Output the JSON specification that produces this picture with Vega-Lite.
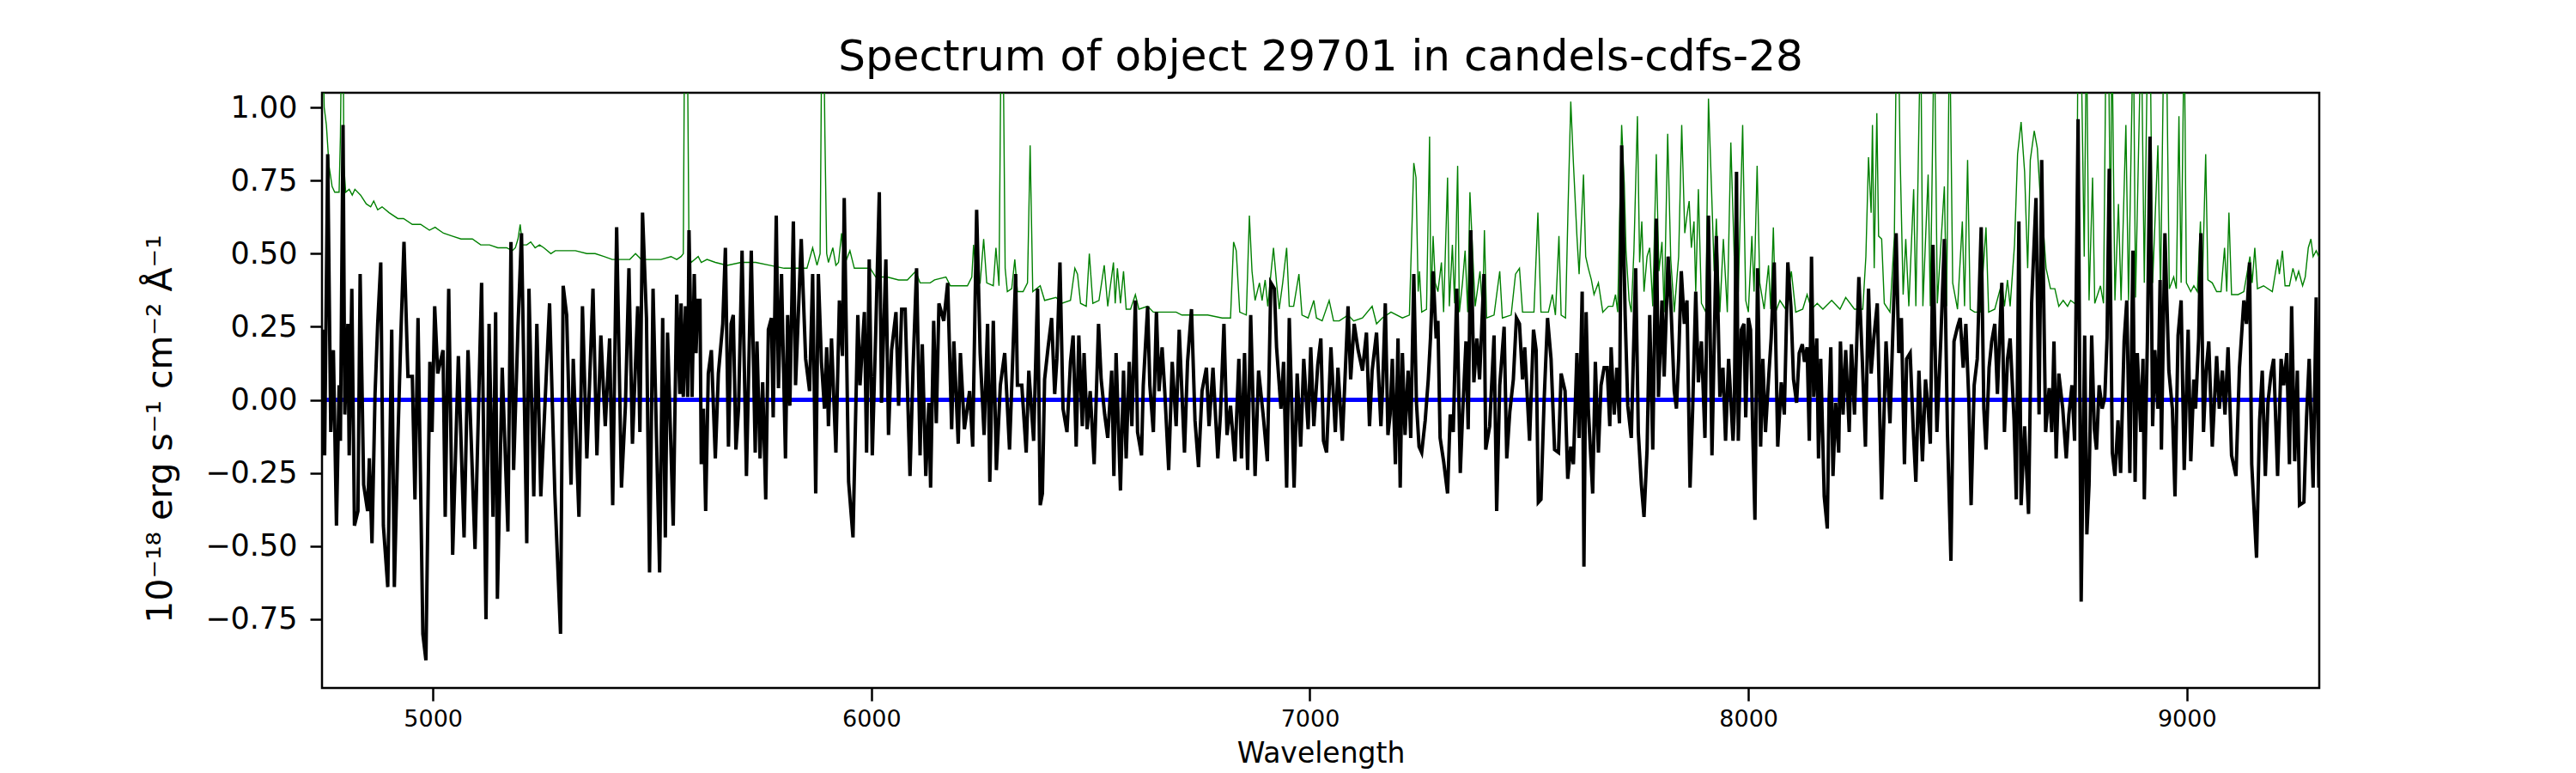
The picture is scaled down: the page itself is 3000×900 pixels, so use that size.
{
  "$schema": "https://vega.github.io/schema/vega-lite/v6.json",
  "width": 2326,
  "height": 693,
  "autosize": {"type": "none"},
  "padding": {"left": 375, "top": 108, "right": 299, "bottom": 99},
  "background": "white",
  "title": {
    "text": "Spectrum of object 29701 in candels-cdfs-28",
    "fontSize": 50,
    "fontWeight": "normal",
    "color": "black",
    "anchor": "middle",
    "offset": 16
  },
  "datasets": {
    "noise": [
      {"wavelength": 4748, "noise": 1.3}, {"wavelength": 4752, "noise": 1.0}, {"wavelength": 4757, "noise": 0.94}, {"wavelength": 4763, "noise": 0.8},
      {"wavelength": 4770, "noise": 0.73}, {"wavelength": 4776, "noise": 0.71}, {"wavelength": 4786, "noise": 0.71}, {"wavelength": 4789, "noise": 0.9},
      {"wavelength": 4792, "noise": 1.3}, {"wavelength": 4795, "noise": 1.3}, {"wavelength": 4797, "noise": 0.8}, {"wavelength": 4801, "noise": 0.71},
      {"wavelength": 4809, "noise": 0.72}, {"wavelength": 4816, "noise": 0.7}, {"wavelength": 4822, "noise": 0.72}, {"wavelength": 4835, "noise": 0.7},
      {"wavelength": 4848, "noise": 0.67}, {"wavelength": 4858, "noise": 0.66}, {"wavelength": 4865, "noise": 0.68}, {"wavelength": 4874, "noise": 0.65},
      {"wavelength": 4884, "noise": 0.66}, {"wavelength": 4900, "noise": 0.64}, {"wavelength": 4920, "noise": 0.62}, {"wavelength": 4933, "noise": 0.62},
      {"wavelength": 4953, "noise": 0.6}, {"wavelength": 4972, "noise": 0.6}, {"wavelength": 4992, "noise": 0.58}, {"wavelength": 5005, "noise": 0.59},
      {"wavelength": 5024, "noise": 0.57}, {"wavelength": 5044, "noise": 0.56}, {"wavelength": 5064, "noise": 0.55}, {"wavelength": 5090, "noise": 0.55},
      {"wavelength": 5109, "noise": 0.53}, {"wavelength": 5129, "noise": 0.53}, {"wavelength": 5148, "noise": 0.52}, {"wavelength": 5168, "noise": 0.52},
      {"wavelength": 5181, "noise": 0.51}, {"wavelength": 5188, "noise": 0.52}, {"wavelength": 5194, "noise": 0.55}, {"wavelength": 5199, "noise": 0.6},
      {"wavelength": 5204, "noise": 0.53}, {"wavelength": 5214, "noise": 0.53}, {"wavelength": 5223, "noise": 0.54}, {"wavelength": 5233, "noise": 0.52},
      {"wavelength": 5243, "noise": 0.53}, {"wavelength": 5253, "noise": 0.52}, {"wavelength": 5269, "noise": 0.5}, {"wavelength": 5279, "noise": 0.51},
      {"wavelength": 5299, "noise": 0.51}, {"wavelength": 5325, "noise": 0.51}, {"wavelength": 5351, "noise": 0.5}, {"wavelength": 5370, "noise": 0.5},
      {"wavelength": 5390, "noise": 0.49}, {"wavelength": 5409, "noise": 0.48}, {"wavelength": 5429, "noise": 0.48}, {"wavelength": 5449, "noise": 0.48},
      {"wavelength": 5462, "noise": 0.5}, {"wavelength": 5475, "noise": 0.48}, {"wavelength": 5494, "noise": 0.48}, {"wavelength": 5520, "noise": 0.48},
      {"wavelength": 5543, "noise": 0.49}, {"wavelength": 5556, "noise": 0.48}, {"wavelength": 5566, "noise": 0.49}, {"wavelength": 5571, "noise": 0.5},
      {"wavelength": 5574, "noise": 1.3}, {"wavelength": 5580, "noise": 1.3}, {"wavelength": 5584, "noise": 0.5}, {"wavelength": 5589, "noise": 0.47},
      {"wavelength": 5605, "noise": 0.49}, {"wavelength": 5612, "noise": 0.47}, {"wavelength": 5625, "noise": 0.48}, {"wavelength": 5644, "noise": 0.47},
      {"wavelength": 5671, "noise": 0.46}, {"wavelength": 5703, "noise": 0.47}, {"wavelength": 5736, "noise": 0.47}, {"wavelength": 5768, "noise": 0.46},
      {"wavelength": 5801, "noise": 0.45}, {"wavelength": 5834, "noise": 0.45}, {"wavelength": 5853, "noise": 0.45}, {"wavelength": 5866, "noise": 0.52},
      {"wavelength": 5876, "noise": 0.46}, {"wavelength": 5883, "noise": 0.5}, {"wavelength": 5887, "noise": 1.3}, {"wavelength": 5891, "noise": 1.3},
      {"wavelength": 5894, "noise": 0.9}, {"wavelength": 5898, "noise": 0.5}, {"wavelength": 5902, "noise": 0.47}, {"wavelength": 5912, "noise": 0.52},
      {"wavelength": 5919, "noise": 0.46}, {"wavelength": 5925, "noise": 0.47}, {"wavelength": 5932, "noise": 0.57}, {"wavelength": 5938, "noise": 0.46},
      {"wavelength": 5951, "noise": 0.51}, {"wavelength": 5961, "noise": 0.45}, {"wavelength": 5974, "noise": 0.45}, {"wavelength": 5997, "noise": 0.45},
      {"wavelength": 6010, "noise": 0.42}, {"wavelength": 6036, "noise": 0.42}, {"wavelength": 6062, "noise": 0.41}, {"wavelength": 6082, "noise": 0.41},
      {"wavelength": 6101, "noise": 0.44}, {"wavelength": 6111, "noise": 0.4}, {"wavelength": 6134, "noise": 0.4}, {"wavelength": 6144, "noise": 0.41},
      {"wavelength": 6170, "noise": 0.42}, {"wavelength": 6180, "noise": 0.39}, {"wavelength": 6199, "noise": 0.39}, {"wavelength": 6219, "noise": 0.39},
      {"wavelength": 6229, "noise": 0.42}, {"wavelength": 6233, "noise": 0.53}, {"wavelength": 6240, "noise": 0.41}, {"wavelength": 6248, "noise": 0.4},
      {"wavelength": 6256, "noise": 0.55}, {"wavelength": 6263, "noise": 0.4}, {"wavelength": 6278, "noise": 0.39}, {"wavelength": 6284, "noise": 0.52},
      {"wavelength": 6291, "noise": 0.39}, {"wavelength": 6296, "noise": 1.3}, {"wavelength": 6300, "noise": 1.3}, {"wavelength": 6305, "noise": 0.45},
      {"wavelength": 6310, "noise": 0.37}, {"wavelength": 6320, "noise": 0.38}, {"wavelength": 6327, "noise": 0.48}, {"wavelength": 6333, "noise": 0.37},
      {"wavelength": 6346, "noise": 0.37}, {"wavelength": 6356, "noise": 0.4}, {"wavelength": 6362, "noise": 0.87}, {"wavelength": 6368, "noise": 0.37},
      {"wavelength": 6385, "noise": 0.39}, {"wavelength": 6395, "noise": 0.34}, {"wavelength": 6421, "noise": 0.35}, {"wavelength": 6434, "noise": 0.33},
      {"wavelength": 6454, "noise": 0.34}, {"wavelength": 6464, "noise": 0.45}, {"wavelength": 6470, "noise": 0.43}, {"wavelength": 6477, "noise": 0.33},
      {"wavelength": 6490, "noise": 0.32}, {"wavelength": 6497, "noise": 0.5}, {"wavelength": 6505, "noise": 0.33}, {"wavelength": 6519, "noise": 0.34},
      {"wavelength": 6531, "noise": 0.46}, {"wavelength": 6539, "noise": 0.32}, {"wavelength": 6552, "noise": 0.47}, {"wavelength": 6556, "noise": 0.33},
      {"wavelength": 6561, "noise": 0.45}, {"wavelength": 6568, "noise": 0.33}, {"wavelength": 6575, "noise": 0.44}, {"wavelength": 6581, "noise": 0.31},
      {"wavelength": 6591, "noise": 0.31}, {"wavelength": 6602, "noise": 0.36}, {"wavelength": 6610, "noise": 0.31}, {"wavelength": 6630, "noise": 0.32},
      {"wavelength": 6643, "noise": 0.3}, {"wavelength": 6669, "noise": 0.3}, {"wavelength": 6695, "noise": 0.3}, {"wavelength": 6708, "noise": 0.29},
      {"wavelength": 6734, "noise": 0.29}, {"wavelength": 6767, "noise": 0.29}, {"wavelength": 6800, "noise": 0.28}, {"wavelength": 6819, "noise": 0.28},
      {"wavelength": 6826, "noise": 0.54}, {"wavelength": 6832, "noise": 0.51}, {"wavelength": 6840, "noise": 0.3}, {"wavelength": 6855, "noise": 0.29},
      {"wavelength": 6862, "noise": 0.63}, {"wavelength": 6868, "noise": 0.44}, {"wavelength": 6875, "noise": 0.34}, {"wavelength": 6885, "noise": 0.4},
      {"wavelength": 6891, "noise": 0.34}, {"wavelength": 6898, "noise": 0.41}, {"wavelength": 6904, "noise": 0.32}, {"wavelength": 6911, "noise": 0.43},
      {"wavelength": 6917, "noise": 0.52}, {"wavelength": 6924, "noise": 0.4}, {"wavelength": 6930, "noise": 0.31}, {"wavelength": 6938, "noise": 0.4},
      {"wavelength": 6947, "noise": 0.52}, {"wavelength": 6953, "noise": 0.32}, {"wavelength": 6963, "noise": 0.32}, {"wavelength": 6975, "noise": 0.43},
      {"wavelength": 6982, "noise": 0.29}, {"wavelength": 6996, "noise": 0.28}, {"wavelength": 7009, "noise": 0.34}, {"wavelength": 7015, "noise": 0.28},
      {"wavelength": 7028, "noise": 0.27}, {"wavelength": 7044, "noise": 0.34}, {"wavelength": 7054, "noise": 0.27}, {"wavelength": 7067, "noise": 0.27},
      {"wavelength": 7087, "noise": 0.29}, {"wavelength": 7100, "noise": 0.27}, {"wavelength": 7120, "noise": 0.28}, {"wavelength": 7142, "noise": 0.32},
      {"wavelength": 7152, "noise": 0.26}, {"wavelength": 7165, "noise": 0.28}, {"wavelength": 7185, "noise": 0.3}, {"wavelength": 7211, "noise": 0.28},
      {"wavelength": 7227, "noise": 0.29}, {"wavelength": 7237, "noise": 0.81}, {"wavelength": 7242, "noise": 0.76}, {"wavelength": 7247, "noise": 0.37},
      {"wavelength": 7250, "noise": 0.44}, {"wavelength": 7255, "noise": 0.3}, {"wavelength": 7266, "noise": 0.31}, {"wavelength": 7273, "noise": 0.9},
      {"wavelength": 7276, "noise": 0.32}, {"wavelength": 7281, "noise": 0.56}, {"wavelength": 7286, "noise": 0.4}, {"wavelength": 7292, "noise": 0.37},
      {"wavelength": 7300, "noise": 0.47}, {"wavelength": 7305, "noise": 0.3}, {"wavelength": 7314, "noise": 0.76}, {"wavelength": 7318, "noise": 0.32},
      {"wavelength": 7325, "noise": 0.53}, {"wavelength": 7330, "noise": 0.33}, {"wavelength": 7337, "noise": 0.8}, {"wavelength": 7341, "noise": 0.3},
      {"wavelength": 7348, "noise": 0.4}, {"wavelength": 7354, "noise": 0.51}, {"wavelength": 7360, "noise": 0.3}, {"wavelength": 7365, "noise": 0.71},
      {"wavelength": 7371, "noise": 0.51}, {"wavelength": 7377, "noise": 0.32}, {"wavelength": 7388, "noise": 0.44}, {"wavelength": 7394, "noise": 0.3},
      {"wavelength": 7398, "noise": 0.58}, {"wavelength": 7403, "noise": 0.28}, {"wavelength": 7420, "noise": 0.29}, {"wavelength": 7426, "noise": 0.36},
      {"wavelength": 7433, "noise": 0.44}, {"wavelength": 7439, "noise": 0.28}, {"wavelength": 7459, "noise": 0.29}, {"wavelength": 7469, "noise": 0.43},
      {"wavelength": 7478, "noise": 0.45}, {"wavelength": 7485, "noise": 0.3}, {"wavelength": 7511, "noise": 0.3}, {"wavelength": 7520, "noise": 0.64},
      {"wavelength": 7527, "noise": 0.3}, {"wavelength": 7544, "noise": 0.3}, {"wavelength": 7553, "noise": 0.36}, {"wavelength": 7560, "noise": 0.29},
      {"wavelength": 7568, "noise": 0.56}, {"wavelength": 7573, "noise": 0.29}, {"wavelength": 7583, "noise": 0.28}, {"wavelength": 7589, "noise": 0.67},
      {"wavelength": 7595, "noise": 1.02}, {"wavelength": 7601, "noise": 0.81}, {"wavelength": 7609, "noise": 0.56}, {"wavelength": 7614, "noise": 0.43},
      {"wavelength": 7624, "noise": 0.77}, {"wavelength": 7629, "noise": 0.49}, {"wavelength": 7635, "noise": 0.45}, {"wavelength": 7642, "noise": 0.41},
      {"wavelength": 7648, "noise": 0.36}, {"wavelength": 7658, "noise": 0.4}, {"wavelength": 7668, "noise": 0.3}, {"wavelength": 7681, "noise": 0.32},
      {"wavelength": 7691, "noise": 0.32}, {"wavelength": 7697, "noise": 0.36}, {"wavelength": 7702, "noise": 0.3}, {"wavelength": 7706, "noise": 0.6},
      {"wavelength": 7711, "noise": 0.94}, {"wavelength": 7717, "noise": 0.74}, {"wavelength": 7721, "noise": 0.51}, {"wavelength": 7728, "noise": 0.34},
      {"wavelength": 7733, "noise": 0.3}, {"wavelength": 7739, "noise": 0.51}, {"wavelength": 7747, "noise": 0.97}, {"wavelength": 7752, "noise": 0.47},
      {"wavelength": 7757, "noise": 0.61}, {"wavelength": 7762, "noise": 0.37}, {"wavelength": 7769, "noise": 0.49}, {"wavelength": 7775, "noise": 0.52},
      {"wavelength": 7782, "noise": 0.32}, {"wavelength": 7790, "noise": 0.84}, {"wavelength": 7796, "noise": 0.44}, {"wavelength": 7803, "noise": 0.54},
      {"wavelength": 7808, "noise": 0.3}, {"wavelength": 7816, "noise": 0.91}, {"wavelength": 7823, "noise": 0.48}, {"wavelength": 7831, "noise": 0.3},
      {"wavelength": 7841, "noise": 0.49}, {"wavelength": 7848, "noise": 0.94}, {"wavelength": 7855, "noise": 0.57}, {"wavelength": 7860, "noise": 0.63},
      {"wavelength": 7865, "noise": 0.68}, {"wavelength": 7870, "noise": 0.52}, {"wavelength": 7876, "noise": 0.61}, {"wavelength": 7880, "noise": 0.37},
      {"wavelength": 7886, "noise": 0.72}, {"wavelength": 7893, "noise": 0.33}, {"wavelength": 7903, "noise": 0.3}, {"wavelength": 7909, "noise": 1.03},
      {"wavelength": 7916, "noise": 0.72}, {"wavelength": 7922, "noise": 0.44}, {"wavelength": 7927, "noise": 0.62}, {"wavelength": 7935, "noise": 0.3},
      {"wavelength": 7943, "noise": 0.55}, {"wavelength": 7952, "noise": 0.3}, {"wavelength": 7960, "noise": 0.88}, {"wavelength": 7967, "noise": 0.53},
      {"wavelength": 7971, "noise": 0.32}, {"wavelength": 7977, "noise": 0.37}, {"wavelength": 7987, "noise": 0.94}, {"wavelength": 7994, "noise": 0.34},
      {"wavelength": 8000, "noise": 0.3}, {"wavelength": 8008, "noise": 0.56}, {"wavelength": 8013, "noise": 0.37}, {"wavelength": 8020, "noise": 0.8},
      {"wavelength": 8026, "noise": 0.4}, {"wavelength": 8036, "noise": 0.31}, {"wavelength": 8046, "noise": 0.46}, {"wavelength": 8051, "noise": 0.31},
      {"wavelength": 8057, "noise": 0.59}, {"wavelength": 8062, "noise": 0.3}, {"wavelength": 8072, "noise": 0.34}, {"wavelength": 8085, "noise": 0.31},
      {"wavelength": 8098, "noise": 0.44}, {"wavelength": 8108, "noise": 0.3}, {"wavelength": 8124, "noise": 0.31}, {"wavelength": 8134, "noise": 0.36},
      {"wavelength": 8144, "noise": 0.31}, {"wavelength": 8157, "noise": 0.33}, {"wavelength": 8170, "noise": 0.31}, {"wavelength": 8190, "noise": 0.34},
      {"wavelength": 8209, "noise": 0.31}, {"wavelength": 8222, "noise": 0.35}, {"wavelength": 8242, "noise": 0.31}, {"wavelength": 8261, "noise": 0.31},
      {"wavelength": 8268, "noise": 0.49}, {"wavelength": 8274, "noise": 0.83}, {"wavelength": 8280, "noise": 0.64}, {"wavelength": 8283, "noise": 0.94},
      {"wavelength": 8287, "noise": 0.45}, {"wavelength": 8293, "noise": 0.98}, {"wavelength": 8297, "noise": 0.56}, {"wavelength": 8304, "noise": 0.55},
      {"wavelength": 8310, "noise": 0.33}, {"wavelength": 8323, "noise": 0.3}, {"wavelength": 8333, "noise": 0.56}, {"wavelength": 8338, "noise": 1.3},
      {"wavelength": 8342, "noise": 1.3}, {"wavelength": 8346, "noise": 0.84}, {"wavelength": 8353, "noise": 0.36}, {"wavelength": 8359, "noise": 0.55},
      {"wavelength": 8366, "noise": 0.32}, {"wavelength": 8377, "noise": 0.72}, {"wavelength": 8382, "noise": 0.32}, {"wavelength": 8393, "noise": 1.3},
      {"wavelength": 8398, "noise": 0.32}, {"wavelength": 8410, "noise": 0.77}, {"wavelength": 8415, "noise": 0.32}, {"wavelength": 8424, "noise": 1.3},
      {"wavelength": 8431, "noise": 0.33}, {"wavelength": 8447, "noise": 0.73}, {"wavelength": 8452, "noise": 0.32}, {"wavelength": 8459, "noise": 1.3},
      {"wavelength": 8466, "noise": 0.4}, {"wavelength": 8477, "noise": 0.31}, {"wavelength": 8488, "noise": 0.61}, {"wavelength": 8493, "noise": 0.32},
      {"wavelength": 8500, "noise": 0.82}, {"wavelength": 8506, "noise": 0.31}, {"wavelength": 8516, "noise": 0.3}, {"wavelength": 8529, "noise": 0.3},
      {"wavelength": 8542, "noise": 0.59}, {"wavelength": 8548, "noise": 0.3}, {"wavelength": 8562, "noise": 0.31}, {"wavelength": 8578, "noise": 0.4},
      {"wavelength": 8584, "noise": 0.32}, {"wavelength": 8591, "noise": 0.41}, {"wavelength": 8597, "noise": 0.32}, {"wavelength": 8607, "noise": 0.53},
      {"wavelength": 8614, "noise": 0.84}, {"wavelength": 8622, "noise": 0.95}, {"wavelength": 8630, "noise": 0.78}, {"wavelength": 8637, "noise": 0.45},
      {"wavelength": 8643, "noise": 0.82}, {"wavelength": 8652, "noise": 0.92}, {"wavelength": 8659, "noise": 0.86}, {"wavelength": 8666, "noise": 0.69},
      {"wavelength": 8672, "noise": 0.6}, {"wavelength": 8679, "noise": 0.45}, {"wavelength": 8689, "noise": 0.38}, {"wavelength": 8699, "noise": 0.38},
      {"wavelength": 8708, "noise": 0.32}, {"wavelength": 8718, "noise": 0.34}, {"wavelength": 8728, "noise": 0.32}, {"wavelength": 8735, "noise": 0.34},
      {"wavelength": 8744, "noise": 0.33}, {"wavelength": 8748, "noise": 0.34}, {"wavelength": 8752, "noise": 1.3}, {"wavelength": 8758, "noise": 1.3},
      {"wavelength": 8762, "noise": 0.9}, {"wavelength": 8766, "noise": 0.49}, {"wavelength": 8771, "noise": 1.3}, {"wavelength": 8777, "noise": 0.34},
      {"wavelength": 8785, "noise": 0.76}, {"wavelength": 8790, "noise": 0.33}, {"wavelength": 8803, "noise": 0.39}, {"wavelength": 8810, "noise": 0.33},
      {"wavelength": 8816, "noise": 1.3}, {"wavelength": 8821, "noise": 1.3}, {"wavelength": 8826, "noise": 0.5}, {"wavelength": 8829, "noise": 1.3},
      {"wavelength": 8836, "noise": 0.34}, {"wavelength": 8844, "noise": 0.67}, {"wavelength": 8850, "noise": 0.34}, {"wavelength": 8861, "noise": 0.94},
      {"wavelength": 8867, "noise": 0.34}, {"wavelength": 8878, "noise": 1.3}, {"wavelength": 8883, "noise": 0.35}, {"wavelength": 8896, "noise": 1.3},
      {"wavelength": 8903, "noise": 0.4}, {"wavelength": 8911, "noise": 1.3}, {"wavelength": 8916, "noise": 1.3}, {"wavelength": 8922, "noise": 0.4},
      {"wavelength": 8934, "noise": 0.87}, {"wavelength": 8940, "noise": 0.37}, {"wavelength": 8948, "noise": 1.3}, {"wavelength": 8953, "noise": 1.3},
      {"wavelength": 8960, "noise": 0.38}, {"wavelength": 8970, "noise": 0.42}, {"wavelength": 8976, "noise": 0.38}, {"wavelength": 8982, "noise": 0.97},
      {"wavelength": 8987, "noise": 0.4}, {"wavelength": 8994, "noise": 1.3}, {"wavelength": 8999, "noise": 0.4}, {"wavelength": 9009, "noise": 0.37},
      {"wavelength": 9016, "noise": 0.39}, {"wavelength": 9024, "noise": 0.37}, {"wavelength": 9031, "noise": 0.61}, {"wavelength": 9035, "noise": 0.37},
      {"wavelength": 9043, "noise": 0.84}, {"wavelength": 9048, "noise": 0.41}, {"wavelength": 9058, "noise": 0.4}, {"wavelength": 9068, "noise": 0.37},
      {"wavelength": 9078, "noise": 0.37}, {"wavelength": 9086, "noise": 0.52}, {"wavelength": 9091, "noise": 0.37}, {"wavelength": 9096, "noise": 0.64},
      {"wavelength": 9102, "noise": 0.36}, {"wavelength": 9117, "noise": 0.36}, {"wavelength": 9130, "noise": 0.37}, {"wavelength": 9144, "noise": 0.49},
      {"wavelength": 9149, "noise": 0.4}, {"wavelength": 9155, "noise": 0.52}, {"wavelength": 9161, "noise": 0.38}, {"wavelength": 9175, "noise": 0.39},
      {"wavelength": 9195, "noise": 0.37}, {"wavelength": 9207, "noise": 0.48}, {"wavelength": 9211, "noise": 0.43}, {"wavelength": 9218, "noise": 0.51},
      {"wavelength": 9224, "noise": 0.39}, {"wavelength": 9234, "noise": 0.39}, {"wavelength": 9242, "noise": 0.45}, {"wavelength": 9249, "noise": 0.41},
      {"wavelength": 9255, "noise": 0.44}, {"wavelength": 9264, "noise": 0.39}, {"wavelength": 9270, "noise": 0.42}, {"wavelength": 9277, "noise": 0.52},
      {"wavelength": 9283, "noise": 0.55}, {"wavelength": 9288, "noise": 0.49}, {"wavelength": 9295, "noise": 0.51}, {"wavelength": 9301, "noise": 0.49}
    ],
    "model": [
      {"wavelength": 4747, "model": 0.0}, {"wavelength": 7000, "model": 0.0}, {"wavelength": 9302, "model": 0.0}
    ],
    "flux": [
      {"wavelength": 4748, "flux": 0.24}, {"wavelength": 4753, "flux": -0.19}, {"wavelength": 4760, "flux": 0.84}, {"wavelength": 4767, "flux": -0.11},
      {"wavelength": 4773, "flux": 0.17}, {"wavelength": 4780, "flux": -0.43}, {"wavelength": 4786, "flux": 0.05}, {"wavelength": 4789, "flux": -0.14},
      {"wavelength": 4795, "flux": 0.94}, {"wavelength": 4799, "flux": -0.05}, {"wavelength": 4806, "flux": 0.26}, {"wavelength": 4809, "flux": -0.19},
      {"wavelength": 4815, "flux": 0.38}, {"wavelength": 4821, "flux": -0.43}, {"wavelength": 4829, "flux": -0.38}, {"wavelength": 4834, "flux": 0.43},
      {"wavelength": 4842, "flux": -0.29}, {"wavelength": 4851, "flux": -0.38}, {"wavelength": 4855, "flux": -0.2}, {"wavelength": 4861, "flux": -0.49},
      {"wavelength": 4868, "flux": 0.02}, {"wavelength": 4874, "flux": 0.26}, {"wavelength": 4881, "flux": 0.47}, {"wavelength": 4887, "flux": -0.43},
      {"wavelength": 4897, "flux": -0.64}, {"wavelength": 4906, "flux": 0.24}, {"wavelength": 4912, "flux": -0.64}, {"wavelength": 4920, "flux": -0.14},
      {"wavelength": 4927, "flux": 0.23}, {"wavelength": 4934, "flux": 0.54}, {"wavelength": 4943, "flux": 0.08}, {"wavelength": 4953, "flux": 0.08},
      {"wavelength": 4959, "flux": -0.34}, {"wavelength": 4966, "flux": 0.28}, {"wavelength": 4977, "flux": -0.8}, {"wavelength": 4984, "flux": -0.89},
      {"wavelength": 4993, "flux": 0.13}, {"wavelength": 4998, "flux": -0.11}, {"wavelength": 5004, "flux": 0.32}, {"wavelength": 5011, "flux": 0.09},
      {"wavelength": 5023, "flux": 0.17}, {"wavelength": 5028, "flux": -0.4}, {"wavelength": 5036, "flux": 0.38}, {"wavelength": 5045, "flux": -0.53},
      {"wavelength": 5058, "flux": 0.15}, {"wavelength": 5071, "flux": -0.47}, {"wavelength": 5080, "flux": 0.17}, {"wavelength": 5096, "flux": -0.51},
      {"wavelength": 5111, "flux": 0.4}, {"wavelength": 5121, "flux": -0.75}, {"wavelength": 5128, "flux": 0.26}, {"wavelength": 5137, "flux": -0.4},
      {"wavelength": 5143, "flux": 0.3}, {"wavelength": 5147, "flux": -0.68}, {"wavelength": 5158, "flux": 0.11}, {"wavelength": 5171, "flux": -0.45},
      {"wavelength": 5178, "flux": 0.54}, {"wavelength": 5184, "flux": -0.24}, {"wavelength": 5194, "flux": 0.25}, {"wavelength": 5202, "flux": 0.57},
      {"wavelength": 5214, "flux": -0.49}, {"wavelength": 5219, "flux": 0.38}, {"wavelength": 5230, "flux": -0.33}, {"wavelength": 5237, "flux": 0.26},
      {"wavelength": 5246, "flux": -0.33}, {"wavelength": 5259, "flux": 0.1}, {"wavelength": 5266, "flux": 0.33}, {"wavelength": 5278, "flux": -0.32},
      {"wavelength": 5291, "flux": -0.8}, {"wavelength": 5297, "flux": 0.39}, {"wavelength": 5305, "flux": 0.29}, {"wavelength": 5315, "flux": -0.29},
      {"wavelength": 5320, "flux": 0.14}, {"wavelength": 5333, "flux": -0.4}, {"wavelength": 5341, "flux": 0.32}, {"wavelength": 5351, "flux": -0.2},
      {"wavelength": 5365, "flux": 0.38}, {"wavelength": 5374, "flux": -0.19}, {"wavelength": 5383, "flux": 0.22}, {"wavelength": 5393, "flux": -0.09},
      {"wavelength": 5403, "flux": 0.21}, {"wavelength": 5410, "flux": -0.36}, {"wavelength": 5419, "flux": 0.59}, {"wavelength": 5430, "flux": -0.3},
      {"wavelength": 5439, "flux": -0.02}, {"wavelength": 5447, "flux": 0.45}, {"wavelength": 5455, "flux": -0.15}, {"wavelength": 5467, "flux": 0.32},
      {"wavelength": 5472, "flux": -0.11}, {"wavelength": 5478, "flux": 0.64}, {"wavelength": 5487, "flux": 0.28}, {"wavelength": 5494, "flux": -0.59},
      {"wavelength": 5502, "flux": 0.38}, {"wavelength": 5517, "flux": -0.59}, {"wavelength": 5524, "flux": 0.28}, {"wavelength": 5530, "flux": -0.47},
      {"wavelength": 5535, "flux": 0.23}, {"wavelength": 5548, "flux": -0.43}, {"wavelength": 5556, "flux": 0.36}, {"wavelength": 5563, "flux": 0.02},
      {"wavelength": 5566, "flux": 0.33}, {"wavelength": 5571, "flux": 0.01}, {"wavelength": 5576, "flux": 0.32}, {"wavelength": 5581, "flux": 0.01},
      {"wavelength": 5584, "flux": 0.58}, {"wavelength": 5591, "flux": 0.01}, {"wavelength": 5596, "flux": 0.43}, {"wavelength": 5600, "flux": 0.16},
      {"wavelength": 5604, "flux": 0.34}, {"wavelength": 5609, "flux": 0.34}, {"wavelength": 5612, "flux": -0.22}, {"wavelength": 5617, "flux": -0.03},
      {"wavelength": 5622, "flux": -0.38}, {"wavelength": 5628, "flux": 0.09}, {"wavelength": 5635, "flux": 0.17}, {"wavelength": 5644, "flux": -0.2},
      {"wavelength": 5651, "flux": 0.09}, {"wavelength": 5661, "flux": 0.26}, {"wavelength": 5667, "flux": 0.52}, {"wavelength": 5674, "flux": -0.16},
      {"wavelength": 5680, "flux": 0.26}, {"wavelength": 5685, "flux": 0.29}, {"wavelength": 5691, "flux": -0.17}, {"wavelength": 5697, "flux": -0.03},
      {"wavelength": 5705, "flux": 0.51}, {"wavelength": 5715, "flux": -0.26}, {"wavelength": 5726, "flux": 0.51}, {"wavelength": 5735, "flux": -0.18},
      {"wavelength": 5739, "flux": 0.2}, {"wavelength": 5746, "flux": -0.2}, {"wavelength": 5752, "flux": 0.06}, {"wavelength": 5759, "flux": -0.34},
      {"wavelength": 5765, "flux": 0.24}, {"wavelength": 5772, "flux": 0.28}, {"wavelength": 5776, "flux": -0.06}, {"wavelength": 5783, "flux": 0.63},
      {"wavelength": 5788, "flux": 0.04}, {"wavelength": 5795, "flux": 0.43}, {"wavelength": 5804, "flux": -0.2}, {"wavelength": 5809, "flux": 0.29},
      {"wavelength": 5814, "flux": -0.02}, {"wavelength": 5822, "flux": 0.61}, {"wavelength": 5827, "flux": 0.05}, {"wavelength": 5832, "flux": 0.24},
      {"wavelength": 5840, "flux": 0.55}, {"wavelength": 5850, "flux": 0.14}, {"wavelength": 5859, "flux": 0.03}, {"wavelength": 5866, "flux": 0.43},
      {"wavelength": 5873, "flux": -0.32}, {"wavelength": 5879, "flux": 0.43}, {"wavelength": 5886, "flux": 0.13}, {"wavelength": 5893, "flux": -0.03},
      {"wavelength": 5898, "flux": 0.18}, {"wavelength": 5902, "flux": -0.09}, {"wavelength": 5909, "flux": 0.21}, {"wavelength": 5919, "flux": -0.18},
      {"wavelength": 5927, "flux": 0.34}, {"wavelength": 5934, "flux": 0.15}, {"wavelength": 5938, "flux": 0.69}, {"wavelength": 5948, "flux": -0.28},
      {"wavelength": 5958, "flux": -0.47}, {"wavelength": 5969, "flux": 0.29}, {"wavelength": 5974, "flux": 0.05}, {"wavelength": 5984, "flux": 0.3},
      {"wavelength": 5989, "flux": -0.18}, {"wavelength": 5995, "flux": 0.48}, {"wavelength": 6002, "flux": -0.19}, {"wavelength": 6010, "flux": 0.24},
      {"wavelength": 6018, "flux": 0.71}, {"wavelength": 6023, "flux": -0.01}, {"wavelength": 6033, "flux": 0.48}, {"wavelength": 6039, "flux": -0.12},
      {"wavelength": 6046, "flux": 0.17}, {"wavelength": 6056, "flux": 0.3}, {"wavelength": 6062, "flux": -0.02}, {"wavelength": 6069, "flux": 0.31},
      {"wavelength": 6077, "flux": 0.31}, {"wavelength": 6088, "flux": -0.26}, {"wavelength": 6095, "flux": 0.11}, {"wavelength": 6103, "flux": 0.45},
      {"wavelength": 6111, "flux": -0.19}, {"wavelength": 6116, "flux": 0.19}, {"wavelength": 6124, "flux": -0.26}, {"wavelength": 6131, "flux": -0.01},
      {"wavelength": 6135, "flux": -0.3}, {"wavelength": 6142, "flux": 0.27}, {"wavelength": 6148, "flux": -0.08}, {"wavelength": 6154, "flux": 0.33},
      {"wavelength": 6165, "flux": 0.27}, {"wavelength": 6174, "flux": 0.4}, {"wavelength": 6183, "flux": -0.1}, {"wavelength": 6188, "flux": 0.2},
      {"wavelength": 6198, "flux": -0.15}, {"wavelength": 6203, "flux": 0.16}, {"wavelength": 6212, "flux": -0.1}, {"wavelength": 6224, "flux": 0.03},
      {"wavelength": 6231, "flux": -0.16}, {"wavelength": 6240, "flux": 0.65}, {"wavelength": 6248, "flux": 0.16}, {"wavelength": 6257, "flux": -0.12},
      {"wavelength": 6265, "flux": 0.26}, {"wavelength": 6270, "flux": -0.28}, {"wavelength": 6278, "flux": 0.27}, {"wavelength": 6285, "flux": -0.24},
      {"wavelength": 6294, "flux": 0.05}, {"wavelength": 6304, "flux": 0.16}, {"wavelength": 6315, "flux": -0.17}, {"wavelength": 6329, "flux": 0.43},
      {"wavelength": 6333, "flux": 0.05}, {"wavelength": 6343, "flux": 0.05}, {"wavelength": 6353, "flux": -0.18}, {"wavelength": 6359, "flux": 0.1},
      {"wavelength": 6370, "flux": -0.14}, {"wavelength": 6379, "flux": 0.38}, {"wavelength": 6385, "flux": -0.36}, {"wavelength": 6390, "flux": -0.32},
      {"wavelength": 6395, "flux": 0.07}, {"wavelength": 6403, "flux": 0.18}, {"wavelength": 6411, "flux": 0.28}, {"wavelength": 6418, "flux": 0.02},
      {"wavelength": 6423, "flux": 0.14}, {"wavelength": 6430, "flux": 0.47}, {"wavelength": 6437, "flux": -0.03}, {"wavelength": 6446, "flux": -0.11},
      {"wavelength": 6454, "flux": 0.13}, {"wavelength": 6460, "flux": 0.22}, {"wavelength": 6467, "flux": -0.16}, {"wavelength": 6473, "flux": 0.22},
      {"wavelength": 6481, "flux": -0.09}, {"wavelength": 6485, "flux": 0.16}, {"wavelength": 6492, "flux": -0.1}, {"wavelength": 6499, "flux": 0.03},
      {"wavelength": 6508, "flux": -0.22}, {"wavelength": 6518, "flux": 0.26}, {"wavelength": 6524, "flux": 0.07}, {"wavelength": 6532, "flux": -0.05},
      {"wavelength": 6539, "flux": -0.13}, {"wavelength": 6548, "flux": 0.1}, {"wavelength": 6553, "flux": -0.26}, {"wavelength": 6558, "flux": 0.16},
      {"wavelength": 6568, "flux": -0.31}, {"wavelength": 6575, "flux": 0.1}, {"wavelength": 6581, "flux": -0.2}, {"wavelength": 6588, "flux": 0.13},
      {"wavelength": 6594, "flux": -0.09}, {"wavelength": 6602, "flux": 0.34}, {"wavelength": 6607, "flux": -0.11}, {"wavelength": 6616, "flux": -0.19},
      {"wavelength": 6620, "flux": 0.05}, {"wavelength": 6630, "flux": 0.32}, {"wavelength": 6635, "flux": 0.05}, {"wavelength": 6643, "flux": -0.11},
      {"wavelength": 6650, "flux": 0.3}, {"wavelength": 6656, "flux": 0.03}, {"wavelength": 6663, "flux": 0.18}, {"wavelength": 6669, "flux": 0.03},
      {"wavelength": 6678, "flux": -0.24}, {"wavelength": 6686, "flux": 0.13}, {"wavelength": 6695, "flux": -0.09}, {"wavelength": 6702, "flux": 0.24},
      {"wavelength": 6714, "flux": -0.18}, {"wavelength": 6721, "flux": 0.13}, {"wavelength": 6730, "flux": 0.31}, {"wavelength": 6738, "flux": -0.07},
      {"wavelength": 6746, "flux": -0.23}, {"wavelength": 6754, "flux": 0.03}, {"wavelength": 6764, "flux": 0.11}, {"wavelength": 6770, "flux": -0.09},
      {"wavelength": 6779, "flux": 0.11}, {"wavelength": 6790, "flux": -0.2}, {"wavelength": 6796, "flux": -0.05}, {"wavelength": 6804, "flux": 0.26},
      {"wavelength": 6811, "flux": -0.12}, {"wavelength": 6819, "flux": -0.02}, {"wavelength": 6829, "flux": -0.21}, {"wavelength": 6838, "flux": 0.14},
      {"wavelength": 6844, "flux": -0.2}, {"wavelength": 6851, "flux": 0.16}, {"wavelength": 6858, "flux": -0.24}, {"wavelength": 6865, "flux": 0.29},
      {"wavelength": 6875, "flux": -0.26}, {"wavelength": 6883, "flux": 0.1}, {"wavelength": 6894, "flux": -0.06}, {"wavelength": 6903, "flux": -0.21},
      {"wavelength": 6911, "flux": 0.4}, {"wavelength": 6919, "flux": 0.38}, {"wavelength": 6924, "flux": 0.18}, {"wavelength": 6934, "flux": -0.03},
      {"wavelength": 6940, "flux": 0.13}, {"wavelength": 6947, "flux": -0.3}, {"wavelength": 6953, "flux": 0.28}, {"wavelength": 6964, "flux": -0.3},
      {"wavelength": 6971, "flux": 0.09}, {"wavelength": 6979, "flux": -0.16}, {"wavelength": 6986, "flux": 0.14}, {"wavelength": 6996, "flux": -0.1},
      {"wavelength": 7002, "flux": 0.18}, {"wavelength": 7009, "flux": -0.09}, {"wavelength": 7018, "flux": 0.12}, {"wavelength": 7025, "flux": 0.21},
      {"wavelength": 7031, "flux": -0.14}, {"wavelength": 7038, "flux": -0.18}, {"wavelength": 7048, "flux": 0.18}, {"wavelength": 7058, "flux": -0.11},
      {"wavelength": 7064, "flux": 0.11}, {"wavelength": 7074, "flux": -0.14}, {"wavelength": 7080, "flux": 0.07}, {"wavelength": 7087, "flux": 0.32},
      {"wavelength": 7093, "flux": 0.07}, {"wavelength": 7101, "flux": 0.26}, {"wavelength": 7110, "flux": 0.17}, {"wavelength": 7120, "flux": 0.1},
      {"wavelength": 7129, "flux": 0.23}, {"wavelength": 7136, "flux": -0.09}, {"wavelength": 7142, "flux": 0.1}, {"wavelength": 7152, "flux": 0.23},
      {"wavelength": 7162, "flux": -0.09}, {"wavelength": 7166, "flux": 0.05}, {"wavelength": 7172, "flux": 0.33}, {"wavelength": 7178, "flux": -0.12},
      {"wavelength": 7183, "flux": -0.05}, {"wavelength": 7188, "flux": 0.14}, {"wavelength": 7195, "flux": -0.22}, {"wavelength": 7201, "flux": 0.21},
      {"wavelength": 7206, "flux": -0.3}, {"wavelength": 7211, "flux": 0.16}, {"wavelength": 7217, "flux": -0.12}, {"wavelength": 7224, "flux": 0.1},
      {"wavelength": 7230, "flux": -0.13}, {"wavelength": 7237, "flux": 0.43}, {"wavelength": 7243, "flux": -0.01}, {"wavelength": 7249, "flux": -0.16},
      {"wavelength": 7255, "flux": -0.18}, {"wavelength": 7263, "flux": -0.07}, {"wavelength": 7270, "flux": 0.07}, {"wavelength": 7275, "flux": 0.21},
      {"wavelength": 7281, "flux": 0.44}, {"wavelength": 7288, "flux": 0.21}, {"wavelength": 7292, "flux": 0.27}, {"wavelength": 7297, "flux": -0.13},
      {"wavelength": 7305, "flux": -0.21}, {"wavelength": 7314, "flux": -0.32}, {"wavelength": 7320, "flux": -0.05}, {"wavelength": 7327, "flux": -0.11},
      {"wavelength": 7335, "flux": 0.38}, {"wavelength": 7343, "flux": -0.25}, {"wavelength": 7348, "flux": -0.06}, {"wavelength": 7356, "flux": 0.2},
      {"wavelength": 7361, "flux": -0.1}, {"wavelength": 7367, "flux": 0.58}, {"wavelength": 7374, "flux": 0.06}, {"wavelength": 7381, "flux": 0.21},
      {"wavelength": 7387, "flux": 0.07}, {"wavelength": 7397, "flux": 0.43}, {"wavelength": 7401, "flux": -0.17}, {"wavelength": 7410, "flux": -0.09},
      {"wavelength": 7420, "flux": 0.22}, {"wavelength": 7426, "flux": -0.38}, {"wavelength": 7433, "flux": 0.05}, {"wavelength": 7443, "flux": 0.25},
      {"wavelength": 7449, "flux": -0.2}, {"wavelength": 7456, "flux": -0.04}, {"wavelength": 7464, "flux": 0.07}, {"wavelength": 7471, "flux": 0.28},
      {"wavelength": 7478, "flux": 0.26}, {"wavelength": 7485, "flux": 0.07}, {"wavelength": 7490, "flux": 0.18}, {"wavelength": 7501, "flux": -0.14},
      {"wavelength": 7510, "flux": 0.24}, {"wavelength": 7516, "flux": 0.17}, {"wavelength": 7521, "flux": -0.35}, {"wavelength": 7527, "flux": -0.34},
      {"wavelength": 7534, "flux": -0.01}, {"wavelength": 7542, "flux": 0.28}, {"wavelength": 7550, "flux": 0.14}, {"wavelength": 7558, "flux": -0.17},
      {"wavelength": 7567, "flux": -0.18}, {"wavelength": 7573, "flux": 0.09}, {"wavelength": 7582, "flux": 0.03}, {"wavelength": 7588, "flux": -0.27},
      {"wavelength": 7595, "flux": -0.16}, {"wavelength": 7601, "flux": -0.22}, {"wavelength": 7609, "flux": 0.16}, {"wavelength": 7614, "flux": -0.13},
      {"wavelength": 7621, "flux": 0.37}, {"wavelength": 7625, "flux": -0.57}, {"wavelength": 7630, "flux": 0.3}, {"wavelength": 7635, "flux": -0.03},
      {"wavelength": 7645, "flux": -0.32}, {"wavelength": 7651, "flux": 0.13}, {"wavelength": 7658, "flux": -0.18}, {"wavelength": 7664, "flux": 0.05},
      {"wavelength": 7671, "flux": 0.11}, {"wavelength": 7678, "flux": 0.11}, {"wavelength": 7684, "flux": -0.09}, {"wavelength": 7687, "flux": 0.18},
      {"wavelength": 7694, "flux": -0.05}, {"wavelength": 7700, "flux": 0.11}, {"wavelength": 7706, "flux": -0.08}, {"wavelength": 7711, "flux": 0.87},
      {"wavelength": 7719, "flux": 0.29}, {"wavelength": 7725, "flux": -0.02}, {"wavelength": 7733, "flux": -0.13}, {"wavelength": 7743, "flux": 0.45},
      {"wavelength": 7749, "flux": -0.11}, {"wavelength": 7756, "flux": -0.29}, {"wavelength": 7762, "flux": -0.4}, {"wavelength": 7769, "flux": -0.17},
      {"wavelength": 7775, "flux": 0.29}, {"wavelength": 7782, "flux": -0.17}, {"wavelength": 7790, "flux": 0.62}, {"wavelength": 7795, "flux": 0.01},
      {"wavelength": 7803, "flux": 0.34}, {"wavelength": 7808, "flux": 0.08}, {"wavelength": 7817, "flux": 0.49}, {"wavelength": 7824, "flux": 0.3},
      {"wavelength": 7831, "flux": 0.03}, {"wavelength": 7836, "flux": -0.03}, {"wavelength": 7841, "flux": 0.14}, {"wavelength": 7847, "flux": 0.44},
      {"wavelength": 7854, "flux": 0.26}, {"wavelength": 7860, "flux": 0.34}, {"wavelength": 7867, "flux": -0.3}, {"wavelength": 7873, "flux": -0.03},
      {"wavelength": 7880, "flux": 0.37}, {"wavelength": 7886, "flux": 0.06}, {"wavelength": 7893, "flux": 0.2}, {"wavelength": 7901, "flux": -0.13},
      {"wavelength": 7909, "flux": 0.63}, {"wavelength": 7917, "flux": -0.19}, {"wavelength": 7927, "flux": 0.56}, {"wavelength": 7935, "flux": 0.01},
      {"wavelength": 7942, "flux": 0.11}, {"wavelength": 7948, "flux": -0.14}, {"wavelength": 7955, "flux": 0.14}, {"wavelength": 7965, "flux": -0.14},
      {"wavelength": 7968, "flux": -0.04}, {"wavelength": 7973, "flux": 0.78}, {"wavelength": 7977, "flux": -0.14}, {"wavelength": 7984, "flux": 0.24},
      {"wavelength": 7990, "flux": 0.26}, {"wavelength": 7994, "flux": -0.06}, {"wavelength": 8000, "flux": 0.28}, {"wavelength": 8005, "flux": 0.24},
      {"wavelength": 8010, "flux": -0.11}, {"wavelength": 8015, "flux": -0.41}, {"wavelength": 8021, "flux": 0.45}, {"wavelength": 8028, "flux": -0.16},
      {"wavelength": 8033, "flux": 0.14}, {"wavelength": 8039, "flux": -0.11}, {"wavelength": 8046, "flux": 0.07}, {"wavelength": 8052, "flux": 0.21},
      {"wavelength": 8059, "flux": 0.47}, {"wavelength": 8067, "flux": -0.16}, {"wavelength": 8075, "flux": 0.06}, {"wavelength": 8082, "flux": -0.05},
      {"wavelength": 8090, "flux": 0.47}, {"wavelength": 8097, "flux": 0.32}, {"wavelength": 8103, "flux": 0.07}, {"wavelength": 8110, "flux": -0.01},
      {"wavelength": 8116, "flux": 0.16}, {"wavelength": 8123, "flux": 0.19}, {"wavelength": 8128, "flux": 0.13}, {"wavelength": 8134, "flux": 0.18},
      {"wavelength": 8139, "flux": -0.14}, {"wavelength": 8144, "flux": 0.49}, {"wavelength": 8149, "flux": 0.01}, {"wavelength": 8156, "flux": 0.21},
      {"wavelength": 8160, "flux": -0.2}, {"wavelength": 8165, "flux": 0.14}, {"wavelength": 8173, "flux": -0.33}, {"wavelength": 8180, "flux": -0.44},
      {"wavelength": 8184, "flux": -0.01}, {"wavelength": 8188, "flux": 0.18}, {"wavelength": 8193, "flux": -0.26}, {"wavelength": 8199, "flux": -0.01},
      {"wavelength": 8206, "flux": -0.18}, {"wavelength": 8210, "flux": 0.2}, {"wavelength": 8216, "flux": -0.05}, {"wavelength": 8222, "flux": 0.17},
      {"wavelength": 8230, "flux": -0.11}, {"wavelength": 8235, "flux": 0.19}, {"wavelength": 8242, "flux": -0.05}, {"wavelength": 8252, "flux": 0.42},
      {"wavelength": 8260, "flux": 0.13}, {"wavelength": 8267, "flux": -0.16}, {"wavelength": 8274, "flux": 0.38}, {"wavelength": 8280, "flux": 0.09},
      {"wavelength": 8286, "flux": 0.21}, {"wavelength": 8294, "flux": 0.33}, {"wavelength": 8304, "flux": -0.34}, {"wavelength": 8314, "flux": 0.2},
      {"wavelength": 8323, "flux": -0.08}, {"wavelength": 8332, "flux": 0.35}, {"wavelength": 8337, "flux": 0.57}, {"wavelength": 8343, "flux": 0.16},
      {"wavelength": 8349, "flux": 0.28}, {"wavelength": 8356, "flux": -0.22}, {"wavelength": 8361, "flux": 0.14}, {"wavelength": 8369, "flux": 0.16},
      {"wavelength": 8376, "flux": -0.1}, {"wavelength": 8382, "flux": -0.28}, {"wavelength": 8389, "flux": 0.1}, {"wavelength": 8397, "flux": -0.21},
      {"wavelength": 8404, "flux": 0.07}, {"wavelength": 8410, "flux": -0.03}, {"wavelength": 8415, "flux": -0.15}, {"wavelength": 8421, "flux": 0.53},
      {"wavelength": 8430, "flux": -0.11}, {"wavelength": 8439, "flux": 0.21}, {"wavelength": 8447, "flux": 0.55}, {"wavelength": 8454, "flux": -0.11},
      {"wavelength": 8462, "flux": -0.55}, {"wavelength": 8469, "flux": 0.2}, {"wavelength": 8477, "flux": 0.25}, {"wavelength": 8483, "flux": 0.28},
      {"wavelength": 8490, "flux": 0.11}, {"wavelength": 8496, "flux": 0.26}, {"wavelength": 8503, "flux": -0.01}, {"wavelength": 8508, "flux": -0.36},
      {"wavelength": 8515, "flux": 0.05}, {"wavelength": 8522, "flux": 0.14}, {"wavelength": 8531, "flux": 0.59}, {"wavelength": 8537, "flux": -0.03},
      {"wavelength": 8542, "flux": -0.17}, {"wavelength": 8549, "flux": 0.11}, {"wavelength": 8555, "flux": 0.2}, {"wavelength": 8562, "flux": 0.26},
      {"wavelength": 8568, "flux": 0.02}, {"wavelength": 8573, "flux": 0.21}, {"wavelength": 8578, "flux": 0.4}, {"wavelength": 8584, "flux": -0.11},
      {"wavelength": 8591, "flux": 0.14}, {"wavelength": 8597, "flux": 0.21}, {"wavelength": 8606, "flux": -0.07}, {"wavelength": 8611, "flux": -0.34},
      {"wavelength": 8617, "flux": 0.61}, {"wavelength": 8622, "flux": -0.36}, {"wavelength": 8630, "flux": -0.09}, {"wavelength": 8639, "flux": -0.39},
      {"wavelength": 8646, "flux": 0.33}, {"wavelength": 8656, "flux": 0.69}, {"wavelength": 8663, "flux": -0.05}, {"wavelength": 8669, "flux": 0.82},
      {"wavelength": 8678, "flux": -0.11}, {"wavelength": 8686, "flux": 0.04}, {"wavelength": 8692, "flux": -0.11}, {"wavelength": 8697, "flux": 0.2},
      {"wavelength": 8702, "flux": -0.2}, {"wavelength": 8708, "flux": 0.09}, {"wavelength": 8717, "flux": -0.03}, {"wavelength": 8725, "flux": -0.2},
      {"wavelength": 8731, "flux": -0.05}, {"wavelength": 8738, "flux": 0.05}, {"wavelength": 8744, "flux": -0.14}, {"wavelength": 8752, "flux": 0.96},
      {"wavelength": 8759, "flux": -0.69}, {"wavelength": 8767, "flux": 0.22}, {"wavelength": 8772, "flux": -0.46}, {"wavelength": 8777, "flux": -0.29},
      {"wavelength": 8783, "flux": 0.22}, {"wavelength": 8789, "flux": -0.1}, {"wavelength": 8794, "flux": -0.17}, {"wavelength": 8800, "flux": 0.05},
      {"wavelength": 8807, "flux": -0.03}, {"wavelength": 8813, "flux": 0.01}, {"wavelength": 8818, "flux": 0.21}, {"wavelength": 8823, "flux": 0.79},
      {"wavelength": 8830, "flux": -0.18}, {"wavelength": 8836, "flux": -0.26}, {"wavelength": 8843, "flux": -0.07}, {"wavelength": 8849, "flux": -0.25},
      {"wavelength": 8857, "flux": 0.2}, {"wavelength": 8863, "flux": 0.34}, {"wavelength": 8870, "flux": -0.25}, {"wavelength": 8877, "flux": 0.51},
      {"wavelength": 8882, "flux": -0.28}, {"wavelength": 8887, "flux": 0.16}, {"wavelength": 8895, "flux": -0.11}, {"wavelength": 8900, "flux": 0.14},
      {"wavelength": 8903, "flux": -0.34}, {"wavelength": 8910, "flux": 0.2}, {"wavelength": 8916, "flux": 0.9}, {"wavelength": 8922, "flux": -0.09},
      {"wavelength": 8927, "flux": 0.17}, {"wavelength": 8934, "flux": -0.03}, {"wavelength": 8939, "flux": 0.41}, {"wavelength": 8942, "flux": -0.17},
      {"wavelength": 8950, "flux": 0.57}, {"wavelength": 8959, "flux": 0.1}, {"wavelength": 8967, "flux": -0.03}, {"wavelength": 8973, "flux": -0.33},
      {"wavelength": 8980, "flux": 0.22}, {"wavelength": 8987, "flux": 0.34}, {"wavelength": 8994, "flux": -0.24}, {"wavelength": 9003, "flux": 0.24},
      {"wavelength": 9009, "flux": -0.21}, {"wavelength": 9016, "flux": 0.07}, {"wavelength": 9020, "flux": -0.03}, {"wavelength": 9027, "flux": 0.21},
      {"wavelength": 9032, "flux": 0.57}, {"wavelength": 9038, "flux": -0.11}, {"wavelength": 9044, "flux": 0.1}, {"wavelength": 9050, "flux": 0.2},
      {"wavelength": 9058, "flux": -0.16}, {"wavelength": 9068, "flux": 0.15}, {"wavelength": 9074, "flux": -0.03}, {"wavelength": 9081, "flux": 0.1},
      {"wavelength": 9087, "flux": -0.05}, {"wavelength": 9094, "flux": 0.18}, {"wavelength": 9102, "flux": -0.19}, {"wavelength": 9112, "flux": -0.26},
      {"wavelength": 9120, "flux": 0.11}, {"wavelength": 9130, "flux": 0.34}, {"wavelength": 9136, "flux": 0.26}, {"wavelength": 9143, "flux": 0.47},
      {"wavelength": 9148, "flux": -0.22}, {"wavelength": 9159, "flux": -0.54}, {"wavelength": 9166, "flux": -0.07}, {"wavelength": 9172, "flux": 0.1},
      {"wavelength": 9179, "flux": -0.26}, {"wavelength": 9185, "flux": -0.01}, {"wavelength": 9192, "flux": 0.09}, {"wavelength": 9198, "flux": 0.14},
      {"wavelength": 9207, "flux": -0.26}, {"wavelength": 9215, "flux": 0.14}, {"wavelength": 9221, "flux": 0.05}, {"wavelength": 9228, "flux": 0.16},
      {"wavelength": 9234, "flux": -0.22}, {"wavelength": 9239, "flux": 0.32}, {"wavelength": 9246, "flux": -0.21}, {"wavelength": 9252, "flux": 0.1},
      {"wavelength": 9257, "flux": -0.36}, {"wavelength": 9267, "flux": -0.35}, {"wavelength": 9273, "flux": -0.06}, {"wavelength": 9279, "flux": 0.14},
      {"wavelength": 9288, "flux": -0.3}, {"wavelength": 9295, "flux": 0.35}, {"wavelength": 9301, "flux": -0.3}
    ]
  },
  "encoding": {
    "x": {
      "field": "wavelength",
      "type": "quantitative",
      "scale": {"domain": [4747, 9302], "nice": false, "zero": false},
      "axis": {
        "title": "Wavelength",
        "values": [5000, 6000, 7000, 8000, 9000],
        "format": "d",
        "grid": false,
        "domain": false,
        "ticks": true,
        "tickSize": 15,
        "tickWidth": 2.5,
        "tickColor": "black",
        "labelFontSize": 27,
        "labelColor": "black",
        "labelPadding": 8,
        "titleFontSize": 33,
        "titleFontWeight": "normal",
        "titleColor": "black",
        "titlePadding": 11
      }
    }
  },
  "layer": [
    {
      "data": {"name": "noise"},
      "mark": {"type": "line", "color": "#008000", "strokeWidth": 1.4, "clip": true},
      "encoding": {
        "y": {
          "field": "noise",
          "type": "quantitative",
          "scale": {"domain": [-0.985, 1.05], "nice": false, "zero": false},
          "axis": {
            "title": "10⁻¹⁸ erg s⁻¹ cm⁻² Å⁻¹",
            "values": [-0.75, -0.5, -0.25, 0, 0.25, 0.5, 0.75, 1.0],
            "format": ".2f",
            "grid": false,
            "domain": false,
            "tickSize": 14,
            "tickWidth": 2.5,
            "tickColor": "black",
            "labelFontSize": 35,
            "labelColor": "black",
            "labelPadding": 15,
            "titleFontSize": 41,
            "titleFontWeight": "normal",
            "titleColor": "black",
            "titlePadding": 30,
            "titleY": 391
          }
        }
      }
    },
    {
      "data": {"name": "model"},
      "mark": {"type": "line", "color": "#0000ff", "strokeWidth": 5, "clip": true},
      "encoding": {
        "y": {
          "field": "model",
          "type": "quantitative",
          "scale": {"domain": [-0.985, 1.05], "nice": false, "zero": false},
          "axis": {
            "title": "10⁻¹⁸ erg s⁻¹ cm⁻² Å⁻¹",
            "values": [-0.75, -0.5, -0.25, 0, 0.25, 0.5, 0.75, 1.0],
            "format": ".2f",
            "grid": false,
            "domain": false,
            "tickSize": 14,
            "tickWidth": 2.5,
            "tickColor": "black",
            "labelFontSize": 35,
            "labelColor": "black",
            "labelPadding": 15,
            "titleFontSize": 41,
            "titleFontWeight": "normal",
            "titleColor": "black",
            "titlePadding": 30,
            "titleY": 391
          }
        }
      }
    },
    {
      "data": {"name": "flux"},
      "mark": {"type": "line", "color": "black", "strokeWidth": 4, "clip": true},
      "encoding": {
        "y": {
          "field": "flux",
          "type": "quantitative",
          "scale": {"domain": [-0.985, 1.05], "nice": false, "zero": false},
          "axis": {
            "title": "10⁻¹⁸ erg s⁻¹ cm⁻² Å⁻¹",
            "values": [-0.75, -0.5, -0.25, 0, 0.25, 0.5, 0.75, 1.0],
            "format": ".2f",
            "grid": false,
            "domain": false,
            "tickSize": 14,
            "tickWidth": 2.5,
            "tickColor": "black",
            "labelFontSize": 35,
            "labelColor": "black",
            "labelPadding": 15,
            "titleFontSize": 41,
            "titleFontWeight": "normal",
            "titleColor": "black",
            "titlePadding": 30,
            "titleY": 391
          }
        }
      }
    }
  ],
  "config": {
    "font": "DejaVu Sans",
    "view": {"stroke": "black", "strokeWidth": 2.5}
  }
}
